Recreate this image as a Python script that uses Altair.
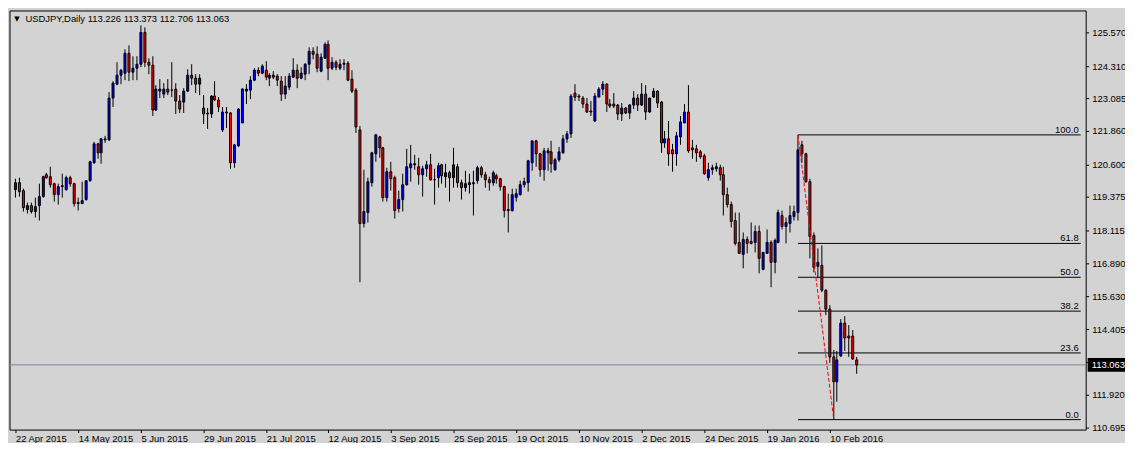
import altair as alt
import pandas as pd

FONT = "Liberation Sans"

symbol_title = "USDJPY,Daily"
date_labels = ["22 Apr 2015", "14 May 2015", "5 Jun 2015", "29 Jun 2015", "21 Jul 2015",
               "12 Aug 2015", "3 Sep 2015", "25 Sep 2015", "19 Oct 2015", "10 Nov 2015",
               "2 Dec 2015", "24 Dec 2015", "19 Jan 2016", "10 Feb 2016"]
date_label_bars = [0, 16, 32, 48, 64, 80, 96, 112, 128, 144, 160, 176, 192, 208]
price_ticks = [125.570, 124.310, 123.085, 121.860, 120.600, 119.375, 118.115,
               116.890, 115.630, 114.405, 113.180, 111.920, 110.695]
hidden_tick = 113.180  # label sits behind the current-price box

opens = [119.66, 119.90, 119.61, 118.89, 119.04, 118.84, 119.04, 119.37, 120.21, 120.12,
         119.86, 119.45, 119.76, 119.64, 120.10, 119.86, 119.14, 119.14, 119.26, 119.97,
         120.67, 121.36, 121.02, 121.51, 121.52, 123.08, 123.63, 123.95, 124.05, 124.77,
         124.08, 124.23, 124.36, 125.57, 124.46, 124.32, 122.63, 123.37, 123.23, 123.42,
         123.38, 123.42, 122.97, 122.95, 123.35, 123.95, 123.83, 123.61, 122.71, 122.52,
         122.49, 123.16, 123.03, 121.91, 122.57, 122.52, 120.67, 121.30, 122.17, 123.36,
         123.38, 123.76, 124.13, 124.02, 124.13, 123.86, 123.96, 123.91, 123.73, 123.23,
         123.51, 123.90, 124.13, 123.86, 124.01, 124.36, 124.86, 124.73, 124.11, 124.61,
         125.11, 124.21, 124.45, 124.23, 124.36, 124.40, 123.80, 123.40, 121.90, 118.39,
         118.80, 119.92, 121.01, 121.64, 121.24, 119.36, 120.32, 120.11, 118.92, 119.26,
         119.82, 120.49, 120.57, 120.51, 120.21, 120.42, 120.59, 120.04, 120.11, 120.59,
         120.14, 120.27, 120.09, 120.51, 119.93, 119.74, 119.82, 119.89, 119.98, 120.47,
         120.20, 120.03, 119.93, 120.16, 120.05, 119.76, 118.86, 118.86, 119.36, 119.46,
         119.82, 119.93, 120.67, 121.47, 120.99, 120.39, 121.05, 121.07, 120.39, 120.76,
         121.05, 121.55, 121.74, 123.27, 123.17, 123.11, 122.86, 122.61, 122.24, 123.14,
         123.42, 123.61, 122.87, 122.86, 122.84, 122.51, 122.74, 122.55, 122.84, 123.09,
         122.84, 123.23, 122.59, 123.15, 123.36, 122.95, 121.42, 121.55, 121.15, 121.01,
         121.65, 122.17, 122.57, 121.21, 121.17, 121.07, 120.92, 120.11, 120.39, 120.42,
         120.49, 120.21, 119.46, 119.07, 118.49, 117.65, 117.20, 117.76, 117.71, 117.65,
         118.08, 116.64, 117.26, 117.65, 116.93, 117.68, 118.68, 118.28, 118.39, 118.65,
         118.80, 121.32, 121.01, 119.95, 117.93, 116.78, 116.80, 115.87, 115.15, 113.34,
         112.43, 113.40, 114.64, 114.14, 114.14, 113.226]
highs = [120.05, 120.09, 119.70, 119.17, 119.17, 119.36, 119.89, 120.17, 120.27, 120.51,
         119.92, 119.86, 120.24, 120.17, 120.17, 119.92, 119.36, 119.95, 120.00, 120.74,
         121.46, 121.42, 121.61, 121.67, 123.33, 123.73, 124.45, 124.20, 124.92, 125.08,
         124.67, 124.67, 125.83, 125.76, 124.61, 124.67, 123.60, 123.82, 123.67, 123.80,
         124.45, 123.65, 123.21, 123.48, 124.17, 124.38, 123.98, 124.01, 123.21, 122.71,
         123.21, 123.73, 123.13, 122.77, 122.77, 122.58, 121.36, 122.71, 123.48, 123.61,
         123.92, 124.23, 124.26, 124.38, 124.48, 124.05, 124.11, 123.98, 123.92, 123.92,
         124.05, 124.58, 124.38, 124.26, 124.42, 125.01, 125.01, 125.04, 124.80, 125.19,
         125.27, 124.63, 124.51, 124.55, 124.55, 124.48, 124.13, 123.48, 122.05, 120.39,
         120.11, 121.07, 121.76, 121.67, 121.26, 120.49, 120.70, 120.17, 119.61, 120.24,
         121.17, 121.34, 120.96, 120.86, 120.55, 120.74, 120.99, 120.42, 120.67, 120.64,
         120.61, 120.36, 121.21, 120.61, 120.01, 120.36, 120.24, 120.36, 120.55, 120.55,
         120.32, 120.14, 120.36, 120.24, 120.09, 119.80, 119.49, 119.67, 119.67, 119.99,
         120.09, 120.79, 121.49, 121.51, 121.05, 121.21, 121.24, 121.49, 120.84, 121.26,
         121.70, 121.86, 123.26, 123.61, 123.23, 123.17, 123.08, 122.99, 123.27, 123.51,
         123.73, 123.66, 123.05, 123.27, 122.86, 122.92, 122.77, 122.89, 123.36, 123.23,
         123.65, 123.58, 123.11, 123.46, 123.40, 122.99, 121.86, 122.24, 121.36, 121.82,
         122.42, 122.89, 123.58, 121.51, 121.34, 121.15, 120.99, 120.65, 120.59, 120.65,
         120.57, 120.51, 119.74, 119.21, 118.78, 118.80, 118.05, 117.90, 118.40, 118.30,
         118.30, 117.28, 118.15, 117.74, 117.80, 118.90, 118.86, 118.59, 119.05, 119.05,
         121.71, 121.49, 121.05, 120.07, 118.05, 117.43, 117.55, 115.89, 115.30, 113.62,
         113.59, 114.77, 114.89, 114.55, 114.37, 113.373]
lows = [119.34, 119.40, 118.84, 118.76, 118.76, 118.61, 118.49, 119.36, 120.05, 119.74,
        119.21, 119.08, 119.36, 119.61, 119.77, 119.03, 118.86, 119.14, 119.24, 119.96,
        120.61, 120.80, 120.64, 121.42, 121.49, 122.77, 123.60, 123.61, 123.78, 123.73,
        123.77, 123.77, 124.27, 124.27, 123.98, 122.42, 122.61, 123.11, 123.11, 123.20,
        123.13, 122.49, 122.55, 122.55, 123.32, 123.58, 123.30, 123.20, 122.11, 121.92,
        122.36, 123.00, 122.58, 121.82, 121.99, 120.42, 120.46, 121.26, 122.17, 122.88,
        123.05, 123.73, 123.92, 123.98, 123.78, 123.55, 123.80, 123.55, 122.98, 123.07,
        123.38, 123.86, 123.48, 123.82, 123.77, 124.01, 124.55, 124.08, 124.08, 124.58,
        123.77, 124.13, 124.13, 124.15, 124.15, 123.73, 123.30, 121.80, 116.18, 118.24,
        118.42, 119.77, 120.70, 120.86, 119.21, 119.21, 119.61, 118.58, 118.80, 118.82,
        119.80, 119.96, 120.39, 119.84, 119.39, 120.14, 119.99, 119.07, 119.74, 119.86,
        119.71, 119.21, 119.74, 119.71, 119.26, 119.59, 119.49, 118.68, 119.86, 120.11,
        119.74, 119.61, 119.80, 119.89, 119.61, 118.61, 118.05, 118.84, 119.20, 119.43,
        119.74, 119.59, 120.36, 120.52, 120.14, 119.98, 120.36, 120.27, 120.36, 120.71,
        121.01, 121.42, 121.61, 122.99, 122.99, 122.74, 122.55, 122.42, 122.21, 123.14,
        123.21, 122.59, 122.71, 122.71, 122.29, 122.24, 122.51, 122.30, 122.67, 122.61,
        122.80, 122.29, 122.55, 123.11, 122.71, 121.05, 121.21, 120.55, 120.34, 120.55,
        121.34, 122.15, 121.05, 120.82, 120.71, 120.80, 120.21, 119.99, 120.21, 120.34,
        119.99, 118.68, 118.99, 118.24, 117.55, 117.24, 116.70, 117.24, 117.59, 117.30,
        116.51, 116.62, 117.24, 115.99, 116.49, 117.64, 118.14, 117.64, 118.05, 118.49,
        118.49, 120.67, 119.93, 117.05, 116.55, 116.30, 115.80, 114.93, 113.12, 110.99,
        111.68, 113.37, 113.59, 113.34, 113.24, 112.706]
closes = [119.90, 119.56, 118.99, 119.04, 118.84, 119.00, 119.37, 120.12, 120.11, 119.82,
          119.45, 119.77, 119.80, 120.11, 119.86, 119.14, 119.17, 119.24, 119.97, 120.70,
          121.36, 121.02, 121.56, 121.57, 123.08, 123.66, 123.96, 124.15, 124.77, 124.08,
          124.23, 124.36, 125.57, 124.46, 124.32, 122.63, 123.42, 123.42, 123.42, 123.33,
          123.40, 122.97, 122.67, 123.35, 123.96, 123.83, 123.61, 123.83, 122.51, 122.49,
          123.17, 123.03, 122.77, 122.57, 122.52, 120.67, 121.32, 122.67, 123.42, 123.42,
          123.76, 124.15, 124.05, 124.30, 123.88, 123.96, 123.90, 123.78, 123.23, 123.55,
          123.92, 124.13, 123.83, 124.02, 124.38, 124.86, 124.73, 124.23, 124.63, 125.11,
          124.21, 124.45, 124.27, 124.38, 124.42, 123.78, 123.36, 122.02, 118.39, 118.82,
          119.95, 121.02, 121.71, 121.21, 119.36, 120.32, 120.07, 118.86, 119.28, 119.82,
          120.51, 120.61, 120.61, 120.21, 120.45, 120.59, 120.01, 120.01, 120.55, 120.17,
          120.27, 120.09, 120.57, 119.90, 119.74, 119.86, 119.90, 119.90, 120.47, 120.20,
          120.01, 119.93, 120.27, 120.05, 119.76, 118.86, 118.90, 119.45, 119.49, 119.84,
          119.95, 120.72, 121.47, 120.99, 120.39, 121.11, 121.11, 120.61, 120.77, 121.07,
          121.55, 121.74, 123.17, 123.15, 123.12, 122.86, 122.59, 122.59, 123.17, 123.42,
          123.61, 122.86, 122.81, 122.80, 122.51, 122.71, 122.55, 122.82, 123.09, 122.84,
          123.23, 122.59, 123.09, 123.36, 122.92, 121.42, 121.55, 120.99, 121.01, 121.67,
          122.20, 122.57, 121.11, 121.15, 121.05, 120.90, 120.26, 120.40, 120.49, 120.51,
          120.20, 119.45, 119.07, 118.46, 117.64, 117.26, 117.78, 117.64, 117.64, 118.08,
          117.05, 117.28, 117.65, 116.93, 117.74, 118.78, 118.26, 118.40, 118.68, 118.83,
          121.15, 120.99, 119.96, 117.89, 116.74, 116.90, 115.87, 115.14, 113.34, 112.43,
          113.24, 114.64, 114.08, 114.08, 113.27, 113.063]

fib_levels = [0.0, 23.6, 38.2, 50.0, 61.8, 100.0]
fib_high_bar = 200
fib_low_bar = 209

# ---------------------------------------------------------------- tables
n = len(opens)
df = pd.DataFrame({"bar": list(range(n)), "open": opens, "high": highs,
                   "low": lows, "close": closes})
df["body_lo"] = df[["open", "close"]].min(axis=1)
df["body_hi"] = df[["open", "close"]].max(axis=1)
df["dir"] = ["up" if c > o else ("down" if c < o else "flat") for o, c in zip(opens, closes)]

X_DOMAIN = [-0.252, 272.22]
Y_DOMAIN = [110.621, 126.394]

fib_hi = highs[fib_high_bar]
fib_lo = lows[fib_low_bar]
fib_df = pd.DataFrame({
    "label": [f"{lv:.1f}" for lv in fib_levels],
    "price": [fib_lo + lv / 100.0 * (fib_hi - fib_lo) for lv in fib_levels],
    "start": [fib_high_bar] * len(fib_levels),
    "end": [X_DOMAIN[1]] * len(fib_levels),
})
trend_df = pd.DataFrame({"bar": [fib_high_bar, fib_low_bar], "price": [fib_hi, fib_lo]})
bid_df = pd.DataFrame({"price": [closes[-1]], "label": [f"{closes[-1]:.3f}"]})
header_df = pd.DataFrame({"t": [f"{symbol_title}  {opens[-1]:.3f} {highs[-1]:.3f} "
                                f"{lows[-1]:.3f} {closes[-1]:.3f}"], "tri": ["\u25bc"]})

# ---------------------------------------------------------------- scales/axes
xs = alt.Scale(domain=X_DOMAIN, nice=False, zero=False, round=True)
ys = alt.Scale(domain=Y_DOMAIN, nice=False, zero=False, round=True)
x_label_expr = "[" + ",".join(f"'{d}'" for d in date_labels) + "][round(datum.value/16)]"
y_label_expr = f"abs(datum.value - {hidden_tick}) < 0.001 ? '' : format(datum.value, '.3f')"
x_axis = alt.Axis(values=date_label_bars, labelExpr=x_label_expr, labelAlign="left",
                  labelBaseline="top", tickSize=3, labelPadding=1, labelFlush=False,
                  labelOverlap=False, labelBound=False, domain=False, grid=False, title=None)
y_axis = alt.Axis(orient="right", values=price_ticks, labelExpr=y_label_expr,
                  labelAlign="left", labelBaseline="middle", tickSize=3, labelPadding=3,
                  labelOverlap=False, labelFlush=False, domain=False, grid=False, title=None)


def X(field):
    return alt.X(f"{field}:Q", scale=xs, axis=x_axis)


def Y(field):
    return alt.Y(f"{field}:Q", scale=ys, axis=y_axis)


bid = alt.Chart(bid_df).mark_rule(color="#778899", strokeWidth=1).encode(y=Y("price"))
fib_rules = alt.Chart(fib_df).mark_rule(color="black", strokeWidth=1).encode(
    x=X("start"), x2="end:Q", y=Y("price"))
wicks = alt.Chart(df).mark_rule(color="black", strokeWidth=1).encode(
    x=X("bar"), y=Y("low"), y2="high:Q")
bodies = alt.Chart(df).mark_bar(size=2, stroke="black", strokeWidth=1, opacity=1).encode(
    x=X("bar"), y=Y("body_lo"), y2="body_hi:Q",
    color=alt.Color("dir:N", scale=alt.Scale(domain=["up", "down", "flat"],
                                             range=["#0000FF", "#FF0000", "#000000"]),
                    legend=None))
trend = alt.Chart(trend_df).mark_line(color="#FF0000", strokeDash=[4, 2], strokeWidth=1).encode(
    x=X("bar"), y=Y("price"))
fib_text = alt.Chart(fib_df).mark_text(align="right", baseline="alphabetic", dx=-2, dy=-2,
                                       font=FONT, fontSize=9.5, color="black").encode(
    x=X("end"), y=Y("price"), text="label:N")
price_box = alt.Chart(bid_df).mark_tick(orient="horizontal", color="black", size=38,
                                        thickness=14, opacity=1).encode(
    y=Y("price"), x=alt.value(1102))
price_text = alt.Chart(bid_df).mark_text(align="left", baseline="middle", font=FONT,
                                         fontSize=9.5, color="white").encode(
    y=Y("price"), x=alt.value(1087), text="label:N")
header_tri = alt.Chart(header_df).mark_text(align="center", baseline="middle", font="DejaVu Sans",
                                            fontSize=7, color="black").encode(
    x=alt.value(7.5), y=alt.value(9), text="tri:N")
header = alt.Chart(header_df).mark_text(align="left", baseline="middle", font=FONT,
                                        fontSize=9.5, color="black").encode(
    x=alt.value(16), y=alt.value(9), text="t:N")

chart = alt.layer(
    bid, fib_rules, wicks, bodies, trend, fib_text, price_box, price_text, header_tri, header
).properties(
    width=1081, height=421,
    padding={"left": 1.5, "top": 1.5, "right": 39.5, "bottom": 12.5},
    autosize=alt.AutoSizeParams(type="none"),
    background="#D3D3D3",
).configure_view(
    stroke="black", strokeWidth=1
).configure_axis(
    labelFont=FONT, labelFontSize=9.5, labelColor="black", tickColor="black", tickWidth=1
)

chart.save("out.html", embed_options={"renderer": "svg", "actions": False})
